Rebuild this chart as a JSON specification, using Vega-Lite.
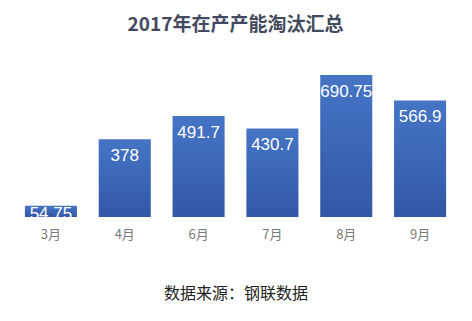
{
  "$schema": "https://vega.github.io/schema/vega-lite/v6.json",
  "width": 443,
  "height": 157,
  "autosize": {"type": "none"},
  "padding": {"left": 14, "top": 60, "right": 15, "bottom": 104},
  "background": "white",
  "title": {
    "text": "2017年在产产能淘汰汇总",
    "font": "Noto Sans CJK SC",
    "fontSize": 19,
    "fontWeight": "bold",
    "color": "#434a5e",
    "anchor": "middle",
    "offset": 25
  },
  "config": {"view": {"stroke": null}},
  "data": {
    "values": [
      {"month": "3月", "value": 54.75},
      {"month": "4月", "value": 378},
      {"month": "6月", "value": 491.7},
      {"month": "7月", "value": 430.7},
      {"month": "8月", "value": 690.75},
      {"month": "9月", "value": 566.9}
    ]
  },
  "encoding": {
    "x": {
      "field": "month",
      "type": "nominal",
      "sort": null,
      "scale": {"paddingInner": 0.295, "paddingOuter": 0.1475},
      "axis": {
        "title": "数据来源：钢联数据",
        "titleFont": "Noto Sans CJK SC",
        "titleFontSize": 16,
        "titleFontWeight": "normal",
        "titleColor": "#222222",
        "titlePadding": 44,
        "labelAngle": 0,
        "labelFont": "Noto Sans CJK SC",
        "labelFontSize": 13,
        "labelColor": "#7a7a7a",
        "labelPadding": 11,
        "domain": false,
        "ticks": false
      }
    },
    "y": {
      "field": "value",
      "type": "quantitative",
      "scale": {"domain": [0, 763.6], "nice": false},
      "axis": null
    }
  },
  "layer": [
    {
      "mark": {
        "type": "bar",
        "color": {
          "gradient": "linear",
          "x1": 0, "y1": 0, "x2": 0, "y2": 1,
          "stops": [
            {"offset": 0, "color": "#4675c6"},
            {"offset": 1, "color": "#3257a6"}
          ]
        }
      }
    },
    {
      "transform": [{"filter": "datum.value >= 100"}],
      "mark": {
        "type": "text",
        "baseline": "top",
        "dy": 9,
        "color": "white",
        "font": "Liberation Sans",
        "fontSize": 17
      },
      "encoding": {"text": {"field": "value", "type": "nominal"}}
    },
    {
      "transform": [{"filter": "datum.value < 100"}],
      "mark": {
        "type": "text",
        "baseline": "top",
        "dy": 0,
        "color": "white",
        "font": "Liberation Sans",
        "fontSize": 17
      },
      "encoding": {"text": {"field": "value", "type": "nominal"}}
    }
  ]
}
